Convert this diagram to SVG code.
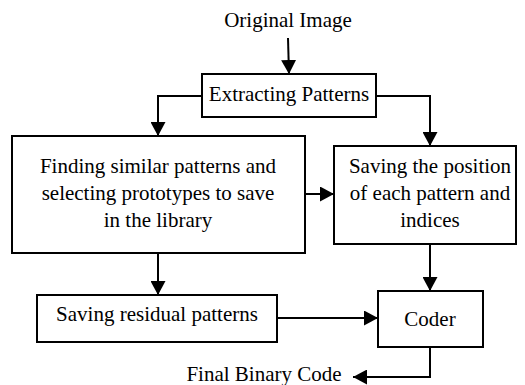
<svg xmlns="http://www.w3.org/2000/svg" width="525" height="385" viewBox="0 0 525 385">
<defs>
<marker id="ah" viewBox="0 0 14 15" refX="14" refY="7.5" markerWidth="14" markerHeight="15" markerUnits="userSpaceOnUse" orient="auto">
<path d="M0,0 L14,7.5 L0,15 Z" fill="#000"/>
</marker>
</defs>
<style>
.b{fill:#fff;stroke:#000;stroke-width:2}
text{font-family:'Liberation Serif','Times New Roman',serif;font-size:21px;fill:#000;text-anchor:middle}
.c{fill:none;stroke:#000;stroke-width:2;marker-end:url(#ah)}
</style>
<rect width="525" height="385" fill="#fff"/>
<g id="connectors">
<path class="c" d="M288,38 L289,74"/>
<path class="c" d="M202,96 L158,96 L158,136"/>
<path class="c" d="M376,96 L430,96 L430,146"/>
<path class="c" d="M305,194 L334,194"/>
<path class="c" d="M158,253 L158,295"/>
<path class="c" d="M430,244 L430,291"/>
<path class="c" d="M277,318 L378,318"/>
<path class="c" d="M430,347 L430,377 L353,377"/>
</g>
<g id="original"><text x="288" y="27">Original Image</text></g>
<g id="extract"><rect class="b" x="202" y="74" width="174" height="43"/><text x="289" y="101">Extracting Patterns</text></g>
<g id="finding"><rect class="b" x="12" y="136" width="293" height="117"/><text x="158" y="173">Finding similar patterns and</text><text x="158" y="200">selecting prototypes to save</text><text x="158" y="227">in the library</text></g>
<g id="position"><rect class="b" x="334" y="146" width="182" height="98"/><text x="430" y="173">Saving the position</text><text x="430" y="200">of each pattern and</text><text x="430" y="227">indices</text></g>
<g id="residual"><rect class="b" x="37" y="295" width="240" height="47"/><text x="157" y="321">Saving residual patterns</text></g>
<g id="coder"><rect class="b" x="378" y="291" width="105" height="56"/><text x="430" y="326">Coder</text></g>
<g id="final"><text x="264" y="381">Final Binary Code</text></g>
</svg>
